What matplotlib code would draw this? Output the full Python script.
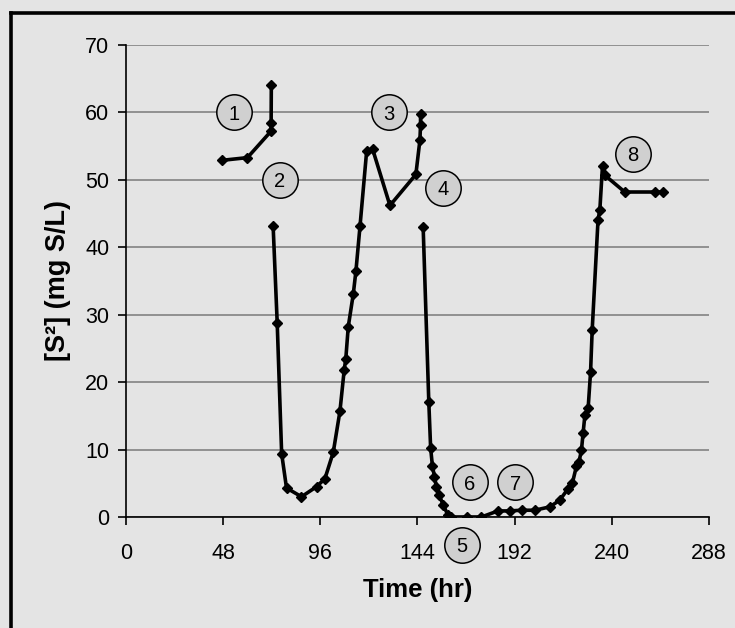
import matplotlib
matplotlib.use("Agg")
from matplotlib import pyplot as plt
from matplotlib.lines import Line2D

# three separate runs of the sulfide curve (the line breaks between them)
t_seg1 = [47.5, 60.0, 71.6, 71.7, 71.8]
s_seg1 = [52.9, 53.3, 57.2, 58.4, 64.0]

t_seg2 = [72.7, 74.7, 76.9, 79.3, 86.7, 94.2, 98.3, 102.4, 105.7, 107.8, 108.6,
          109.8, 112.3, 113.6, 115.6, 118.9, 121.8, 130.4, 143.2, 145.2, 145.5, 145.5]
s_seg2 = [43.1, 28.8, 9.4, 4.3, 3.0, 4.5, 5.7, 9.6, 15.7, 21.8, 23.5,
          28.2, 33.1, 36.5, 43.1, 54.3, 54.6, 46.2, 50.8, 55.9, 58.1, 59.8]

t_seg3 = [146.8, 149.6, 150.5, 151.4, 152.4, 153.3, 154.6, 156.7, 159.0, 160.6,
          168.4, 175.6, 183.8, 189.6, 195.4, 201.9, 209.4, 214.3, 218.4, 220.5,
          222.5, 223.8, 225.0, 225.8, 226.7, 228.3, 229.5, 230.3, 233.2, 234.1,
          235.4, 236.5, 246.4, 261.2, 265.2]
s_seg3 = [43.0, 17.0, 10.2, 7.5, 6.0, 4.5, 3.3, 1.8, 0.3, 0.0,
          0.0, 0.0, 0.9, 0.9, 1.0, 1.0, 1.5, 2.5, 4.2, 5.0,
          7.5, 8.2, 9.9, 12.4, 15.1, 16.1, 21.5, 27.7, 44.1, 45.6,
          52.1, 50.7, 48.2, 48.2, 48.2]

# numbered circle callouts
lab_text = ["1", "2", "3", "4", "5", "6", "7", "8"]
lab_t = [53.5, 76.0, 130.0, 156.5, 165.8, 170.0, 192.3, 250.3]
lab_s = [60.0, 50.0, 60.0, 48.8, -4.15, 5.15, 5.15, 53.9]

x_ticks = [0, 48, 96, 144, 192, 240, 288]
y_ticks = [0, 10, 20, 30, 40, 50, 60, 70]

bg = "#e4e4e4"
plt.rcParams["font.family"] = ["Liberation Sans", "DejaVu Sans"]

fig = plt.figure(figsize=(7.35, 6.28), dpi=100, facecolor=bg)
ax = fig.add_axes([0.1714, 0.1768, 0.7932, 0.7515])
ax.set_facecolor(bg)

for tt, ss in [(t_seg1, s_seg1), (t_seg2, s_seg2), (t_seg3, s_seg3)]:
  ax.plot(tt, ss, color="black", lw=2.6, marker="D", ms=5.5, zorder=3)

ax.scatter(lab_t, lab_s, s=650, facecolor="#d0d0d0", edgecolor="black",
           linewidth=1.1, zorder=4, clip_on=False)
for txt, tt, ss in zip(lab_text, lab_t, lab_s):
  ax.text(tt, ss, txt, ha="center", va="center_baseline", fontsize=14.5,
          zorder=5, clip_on=False)

ax.set_xlim(0, 288)
ax.set_ylim(0, 70)
ax.set_xticks(x_ticks)
ax.set_yticks(y_ticks)
ax.yaxis.grid(True, color="#7a7a7a", lw=1.1)
ax.set_axisbelow(True)
for side in ["top", "right"]:
  ax.spines[side].set_visible(False)
for side in ["left", "bottom"]:
  ax.spines[side].set_linewidth(1.2)
ax.tick_params(axis="both", direction="out", length=6, width=1.2, labelsize=15.5)
ax.tick_params(axis="x", pad=13)
ax.tick_params(axis="y", pad=6)

ax.set_xlabel("Time (hr)", fontsize=18.5, fontweight="bold", labelpad=10)
ax.set_ylabel("[S²] (mg S/L)", fontsize=19.5, fontweight="bold", labelpad=10)

# scanned frame edges
fig.add_artist(Line2D([0.015, 1.0], [0.979, 0.979], color="black", lw=2.6,
                      transform=fig.transFigure))
fig.add_artist(Line2D([0.015, 0.015], [0.0, 0.979], color="black", lw=2.6,
                      transform=fig.transFigure))

fig.savefig("out.png", dpi=100, facecolor=bg)
